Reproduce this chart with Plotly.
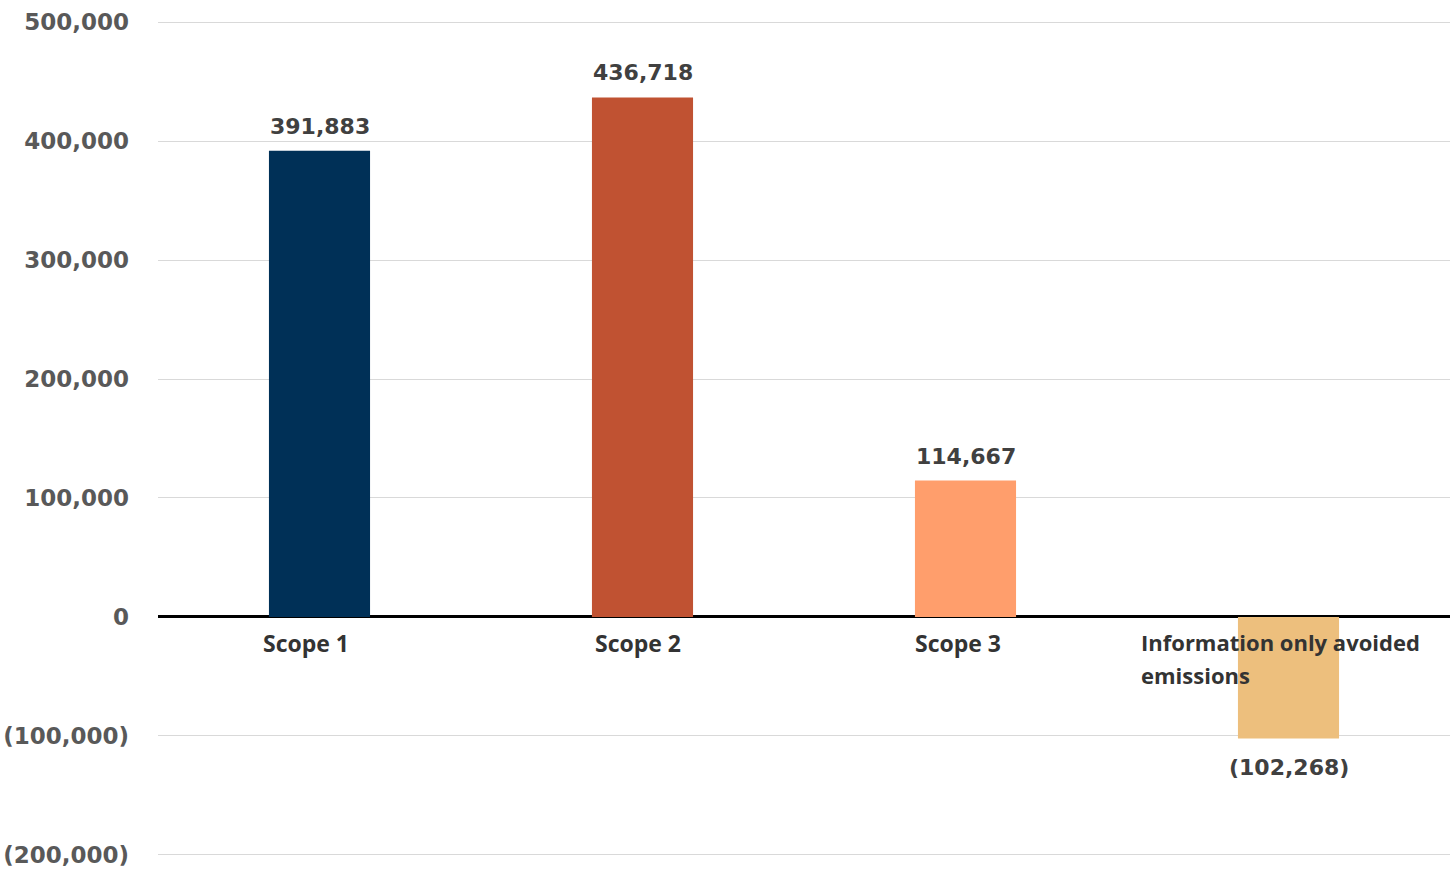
import plotly.graph_objects as go

# Emissions by scope (tCO2e)
categories = ["Scope 1", "Scope 2", "Scope 3", "Information only avoided emissions"]
values = [391883, 436718, 114667, -102268]
bar_colors = ["#003057", "#C05232", "#FF9E6C", "#EDBF7D"]

tick_values = [500000, 400000, 300000, 200000, 100000, 0, -100000, -200000]
tick_labels = ["500,000", "400,000", "300,000", "200,000", "100,000", "0", "(100,000)", "(200,000)"]

# horizontal nudges of the category captions, in pixels
label_shift = [-14, -5, -8, -150]


def fmt(v):
    s = f"{abs(v):,}"
    return f"({s})" if v < 0 else s


num_font = dict(family="DejaVu Sans", size=22, color="#404040")
cat_font = dict(family="Open Sans", size=23, color="#333333")
info_font = dict(family="Open Sans", size=22, color="#333333")

fig = go.Figure()
fig.add_trace(go.Bar(
    x=categories,
    y=values,
    marker=dict(color=bar_colors, line=dict(width=0)),
    width=0.313,
    hoverinfo="skip",
))

annotations = []
for cat, v in zip(categories, values):
    annotations.append(dict(
        x=cat, y=v, xref="x", yref="y",
        text=f"<b>{fmt(v)}</b>",
        showarrow=False,
        yanchor="bottom" if v >= 0 else "top",
        yshift=10 if v >= 0 else -14,
        font=num_font,
    ))

for i, (cat, sh) in enumerate(zip(categories, label_shift)):
    if i < 3:
        annotations.append(dict(
            x=cat, y=0, xref="x", yref="y",
            text=f"<b>{cat}</b>",
            showarrow=False, xanchor="center", yanchor="top",
            xshift=sh, yshift=-8,
            font=cat_font,
        ))
    else:
        # two-line caption, each line placed on its own for wider spacing
        for j, line in enumerate(["Information only avoided", "emissions"]):
            annotations.append(dict(
                x=cat, y=0, xref="x", yref="y",
                text=f"<b>{line}</b>",
                showarrow=False, xanchor="left", yanchor="top", align="left",
                xshift=sh, yshift=-8 - 33 * j,
                font=info_font,
            ))

fig.update_layout(
    width=1450, height=869,
    margin=dict(l=158, r=0, t=21, b=13),
    paper_bgcolor="white",
    plot_bgcolor="white",
    showlegend=False,
    bargap=0.687,
    annotations=annotations,
    xaxis=dict(
        showticklabels=False,
        showgrid=False,
        showline=False,
        zeroline=False,
        ticks="",
    ),
    yaxis=dict(
        range=[-201000, 501000],
        tickmode="array",
        tickvals=tick_values,
        ticktext=[f"<b>{t}</b>" for t in tick_labels],
        tickfont=dict(family="DejaVu Sans", size=23, color="#595959"),
        showgrid=True,
        gridcolor="#D9D9D9",
        gridwidth=1,
        zeroline=True,
        zerolinecolor="#000000",
        zerolinewidth=3,
        showline=False,
        ticks="",
        ticklabelstandoff=28,
    ),
)

fig.write_html("out.html")
